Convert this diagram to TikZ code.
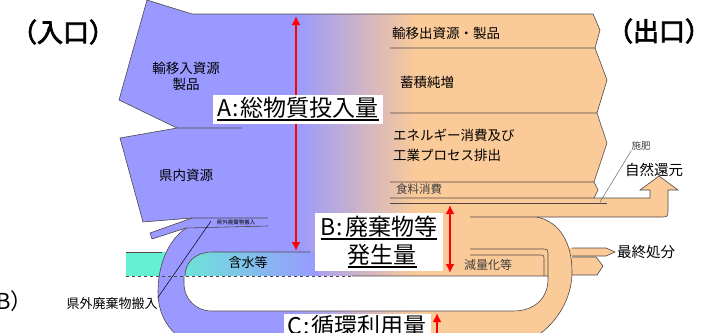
\documentclass[tikz,border=0pt]{standalone}
\usepackage{fontspec}
\setmainfont{Noto Sans CJK JP}
\newfontfamily\boldjp[FakeBold=3]{Noto Sans CJK JP}
\usetikzlibrary{arrows.meta,positioning,calc}
\newcommand{\thickul}[1]{\setbox0=\hbox{#1}\leavevmode\rlap{\copy0}\raisebox{-4pt}{\rule{\wd0}{1.3pt}}}
\definecolor{flowblue}{RGB}{153,153,255}
\definecolor{floworange}{RGB}{250,202,152}
\definecolor{flowcyan}{RGB}{100,240,210}
\definecolor{edgegray}{RGB}{80,70,70}
\newcommand{\flowfill}[1]{%
  \begin{scope}
    \clip #1;
    \fill[flowblue] (0,-20) rectangle (296,360);
    \shade[left color=flowblue,right color=floworange] (295,-20) rectangle (416,360);
    \fill[floworange] (415,-20) rectangle (720,360);
  \end{scope}}
\tikzset{
flowedge/.style={draw=edgegray, line width=0.6pt},
amount/.style={
  draw=red, line width=2.4pt,
  {Latex[length=9pt,width=9pt]}-{Latex[length=9pt,width=9pt]}
  },
keybox/.style={
  fill=white, inner xsep=3pt, inner ysep=2pt,
  font=\fontsize{23}{28}\selectfont, align=center
  },
lbl/.style={inner sep=0pt, font=\fontsize{13.5}{16}\selectfont, align=left},
small/.style={inner sep=0pt, font=\fontsize{11.5}{12}\selectfont, text=black!75},
gate/.style={inner sep=0pt, font=\boldjp\fontsize{26}{26}\selectfont},
leader/.style={draw=black, line width=0.5pt}
}
\begin{document}
\begin{tikzpicture}[x=1pt,y=-1pt,>=latex]
\useasboundingbox (0,0) rectangle (703,332);

\fill[flowcyan] (126,252) rectangle (176,276);

\flowfill{(147,0) -- (192,14) -- (300,14) -- (300,128) -- (177,128) -- (119,100) -- cycle}
\flowfill{(120,138) -- (177,128) -- (300,128) -- (300,218) -- (192,218) -- (143,222) -- cycle}
\flowfill{(192,218) -- (150,233) -- (152,239) -- (186,228) -- (268,226) -- (268,218) -- cycle}

\flowfill{(385,14) -- (593,14) -- (600,30) -- (595,48) -- (385,48) -- cycle}
\flowfill{(385,48) -- (595,48) -- (607,80) -- (597,113) -- (385,113) -- cycle}
\flowfill{(385,113) -- (597,113) -- (607,143) -- (594,182) -- (385,182) -- cycle}
\flowfill{(385,182) -- (594,182) -- (598,190) -- (594,198) -- (385,198) -- cycle}
\flowfill{(385,198) -- (650,198) -- (650,190) -- (640,190) -- (659,176) -- (678,190)
  -- (668,190) -- (668,209) .. controls (668,217) .. (660,217) -- (385,217) -- cycle}
\flowfill{(560,248) -- (606,248) -- (615,252) -- (606,256) -- (560,256) -- cycle}
\flowfill{(560,257) -- (596,257) -- (603,266) -- (597,275) -- (560,275) -- cycle}

\flowfill{(192,14) -- (400,14) -- (400,217) -- (537,217)
  .. controls (560,222) and (572,243) .. (572,272)
  .. controls (572,305) and (548,340) .. (505,350) -- (205,350)
  .. controls (172,340) and (158,318) .. (158,292)
  .. controls (158,268) and (166,242) .. (186,228) -- (192,218) -- cycle}

\shade[left color=flowcyan!85!flowblue, right color=flowblue]
  (185,276) .. controls (185,262) and (196,252) .. (212,252) -- (318,252) -- (318,276) -- cycle;
\fill[white] (184,276) -- (548,276) .. controls (549,298) and (535,311) .. (513,311)
  -- (212,311) .. controls (195,311) and (184,298) .. (184,284) -- cycle;

\draw[flowedge] (242,128) -- (177,128) -- (119,100) -- (147,0) -- (192,14) -- (593,14);
\draw[flowedge] (177,128) -- (120,138) -- (143,222) -- (192,218);
\draw[flowedge] (268,218) -- (192,218) -- (150,233) -- (152,239) -- (186,228) -- (268,226);
\draw[flowedge] (186,228) .. controls (166,242) and (158,268) .. (158,292)
  .. controls (158,318) and (172,340) .. (205,350);
\draw[flowedge] (126,252) -- (162,252);
\draw[flowedge] (310,252) -- (212,252) .. controls (196,252) and (185,262) .. (185,276);
\draw[flowedge] (352,276) -- (548,276) .. controls (549,298) and (535,311) .. (513,311)
  -- (212,311) .. controls (195,311) and (184,298) .. (184,284) -- (184,276);
\draw[flowedge, dashed] (126,276) -- (352,276);

\draw[flowedge] (593,14) -- (600,30) -- (595,48) -- (390,48);
\draw[flowedge] (595,48) -- (607,80) -- (597,113) -- (390,113);
\draw[flowedge] (597,113) -- (607,143) -- (594,182) -- (390,182);
\draw[flowedge] (594,182) -- (598,190) -- (594,198) -- (390,198);
\draw[flowedge] (594,198) -- (650,198) -- (650,190) -- (640,190) -- (659,176) -- (678,190)
  -- (668,190) -- (668,209) .. controls (668,217) .. (660,217) -- (470,217);
\draw[flowedge] (390,203) -- (607,203);
\draw[flowedge] (537,217) .. controls (560,222) and (572,243) .. (572,272)
  .. controls (572,305) and (548,340) .. (505,350);
\draw[flowedge] (470,249) -- (541,249) .. controls (548,249) .. (548,256) -- (548,276);
\draw[flowedge] (470,255) -- (539,255) .. controls (544,255) .. (544,260) -- (544,276);
\draw[flowedge] (572,248) -- (606,248) -- (615,252) -- (606,256) -- (572,256);
\draw[flowedge] (572,257) -- (596,257) -- (603,266) -- (597,275) -- (572,275);

\coordinate (atop) at (296,16);
\coordinate (abot) at (296,251);
\coordinate (btop) at (450,205);
\coordinate (bbot) at (450,273);
\coordinate (ctop) at (437,313);
\coordinate (cbot) at (437,350);
\draw[amount] (atop) -- (abot);
\draw[amount] (btop) -- (bbot);
\draw[amount] (ctop) -- (cbot);

\node[keybox, minimum width=170pt, minimum height=29pt] (keyA) at (298,109)
  {\thickul{A\kern1pt:\kern2pt総物質投入量}};
\node[keybox, minimum width=128pt, minimum height=58pt, inner ysep=1pt] (keyB) at (379,242)
  {\thickul{B\kern1pt:\kern2pt廃棄物等}\\\hspace*{6pt}\thickul{発生量}};
\node[keybox, minimum width=147pt, inner ysep=1pt, anchor=north] (keyC) at (357,314)
  {C\kern1pt:\kern2pt循環利用量};

\node[gate] (inlet) at (63,32) {\kern-0.4em（入口）\kern-0.4em};
\node[gate] (outlet) at (659,31) {\kern-0.4em（出口）\kern-0.4em};
\node[inner sep=0pt, font=\fontsize{22}{22}\selectfont, anchor=west] (noteB) at (-4,301) {B）};

\node[lbl, align=center] (imports) at (186,76) {輸移入資源\\製品};
\node[lbl] (local) at (186,175) {県内資源};
\node[lbl, anchor=west] (exports) at (392,33) {輸移出資源・製品};
\node[lbl, anchor=west] (stock) at (400,82) {蓄積純増};
\node[lbl, anchor=west, font=\fontsize{13.5}{20}\selectfont] (energy) at (393,145)
  {エネルギー消費及び\\工業プロセス排出};
\node[small, anchor=west] (food) at (396,189) {食料消費};
\node[small, font=\fontsize{9.5}{10}\selectfont] (fert) at (641,146) {施肥};
\node[lbl, font=\fontsize{14.5}{16}\selectfont, anchor=west] (nature) at (625,170) {自然還元};
\node[lbl, font=\fontsize{14.5}{16}\selectfont, anchor=west] (landfill) at (617,252) {最終処分};
\node[small, anchor=west, font=\fontsize{12}{12}\selectfont] (reduce) at (464,265) {減量化等};
\node[lbl, font=\fontsize{13}{14}\selectfont] (water) at (248,263) {含水等};
\node[lbl, font=\fontsize{5.5}{6}\selectfont] (extin) at (236,222) {県外廃棄物搬入};
\node[lbl, font=\fontsize{13}{14}\selectfont] (extlbl) at (112,304) {県外廃棄物搬入};

\coordinate (fertend) at (600,202);
\coordinate (extend) at (211,221);
\draw[leader, black!60] (fert.south west) -- (fertend);
\draw[leader] (extlbl.north east) -- (extend);

\end{tikzpicture}
\end{document}
